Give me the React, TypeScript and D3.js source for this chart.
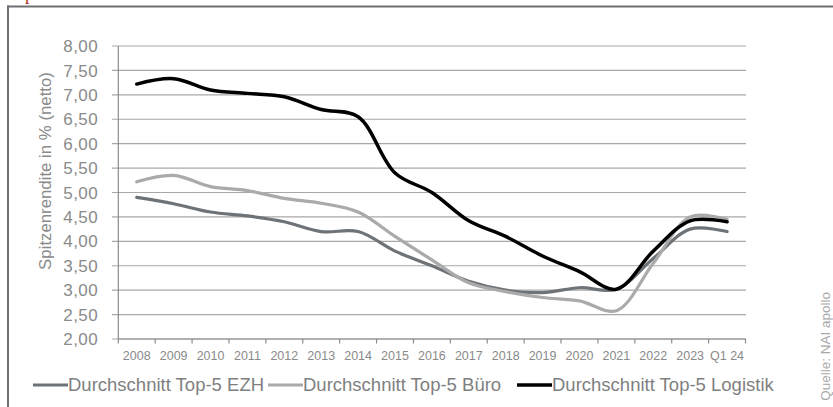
import React from "react";
import * as d3 from "d3";

const categories = ["2008","2009","2010","2011","2012","2013","2014","2015","2016","2017","2018","2019","2020","2021","2022","2023","Q1 24"];
const ezh = [4.9, 4.77, 4.6, 4.52, 4.4, 4.2, 4.2, 3.8, 3.5, 3.18, 3.0, 2.95, 3.05, 3.02, 3.65, 4.25, 4.2];
const buero = [5.22, 5.35, 5.12, 5.04, 4.88, 4.78, 4.6, 4.1, 3.62, 3.15, 2.97, 2.85, 2.78, 2.58, 3.55, 4.5, 4.45];
const logistik = [7.22, 7.33, 7.1, 7.03, 6.96, 6.7, 6.55, 5.4, 5.0, 4.42, 4.1, 3.7, 3.38, 3.02, 3.8, 4.42, 4.4];
const yTicks = [2, 2.5, 3, 3.5, 4, 4.5, 5, 5.5, 6, 6.5, 7, 7.5, 8];
const seriesNames = ["Durchschnitt Top-5 EZH", "Durchschnitt Top-5 Büro", "Durchschnitt Top-5 Logistik"];
const yTitle = "Spitzenrendite in % (netto)";
const source = "Quelle: NAI apollo";

const colors = ["#6e7378", "#aaaaaa", "#000000"];
const widths = [3.2, 3.2, 3.5];
const legendX = [33, 268, 517];

export default function App() {
  const x = d3.scaleBand<string>().domain(categories).range([118.3, 745.5]);
  const y = d3.scaleLinear().domain([2, 8]).range([339, 46]);
  const series = [ezh, buero, logistik];
  const line = d3
    .line<number>()
    .x((_, i) => (x(categories[i]) as number) + x.bandwidth() / 2)
    .y((d) => y(d))
    .curve(d3.curveCatmullRom.alpha(0.5));
  const fmt = (v: number) => v.toFixed(2).replace(".", ",");
  const font = "'Liberation Sans', Arial, sans-serif";
  const boundaries = categories.map((c) => x(c) as number).concat([x.range()[1]]);

  return (
    <div>
      <svg
        width={833}
        height={407}
        style={{ position: "absolute", left: 0, top: 0, background: "#fff" }}
        fontFamily={font}
      >
        <rect x={0} y={0} width={833} height={407} fill="#fff" />
        <text x={25} y={0} fontFamily="'Liberation Serif', serif" fontSize={18} fill="#b5302f">p</text>
        <line x1={8} y1={5.5} x2={8} y2={407} stroke="#6d7074" strokeWidth={2} />
        <line x1={7} y1={6.5} x2={833} y2={6.5} stroke="#6d7074" strokeWidth={2} />

        {yTicks.map((t) => (
          <g key={t}>
            <line x1={112} x2={746} y1={y(t)} y2={y(t)} stroke="#a8a8a8" strokeWidth={1.2} />
            <text x={98} y={y(t)} dy="0.36em" textAnchor="end" fontSize={17} letterSpacing={0.4} fill="#8a8a8a">
              {fmt(t)}
            </text>
          </g>
        ))}
        <line x1={118.3} x2={118.3} y1={46} y2={339} stroke="#8c8c8c" strokeWidth={1.2} />
        <line x1={118.3} x2={746} y1={339} y2={339} stroke="#8c8c8c" strokeWidth={1.2} />
        {boundaries.map((b, i) => (
          <line key={i} x1={b} x2={b} y1={339} y2={343.5} stroke="#8c8c8c" strokeWidth={1.2} />
        ))}
        {categories.map((c) => (
          <text
            key={c}
            x={(x(c) as number) + x.bandwidth() / 2}
            y={360}
            textAnchor="middle"
            fontSize={12.5}
            fill="#8a8a8a"
          >
            {c}
          </text>
        ))}

        <text
          transform="translate(51,171) rotate(-90)"
          textAnchor="middle"
          fontSize={16.8}
          fill="#8a8a8a"
        >
          {yTitle}
        </text>

        {series.map((s, i) => (
          <path
            key={i}
            d={line(s) as string}
            fill="none"
            stroke={colors[i]}
            strokeWidth={widths[i]}
            strokeLinejoin="round"
            strokeLinecap="round"
          />
        ))}

        {seriesNames.map((n, i) => (
          <g key={n}>
            <line
              x1={legendX[i]}
              x2={legendX[i] + 35}
              y1={385}
              y2={385}
              stroke={colors[i]}
              strokeWidth={widths[i]}
            />
            <text x={legendX[i] + 35} y={391} fontSize={18.5} fill="#7f7f7f">
              {n}
            </text>
          </g>
        ))}

        <text
          transform="translate(830,292) rotate(-90)"
          textAnchor="end"
          fontSize={13.5}
          fill="#a8a8a8"
        >
          {source}
        </text>
      </svg>
    </div>
  );
}
